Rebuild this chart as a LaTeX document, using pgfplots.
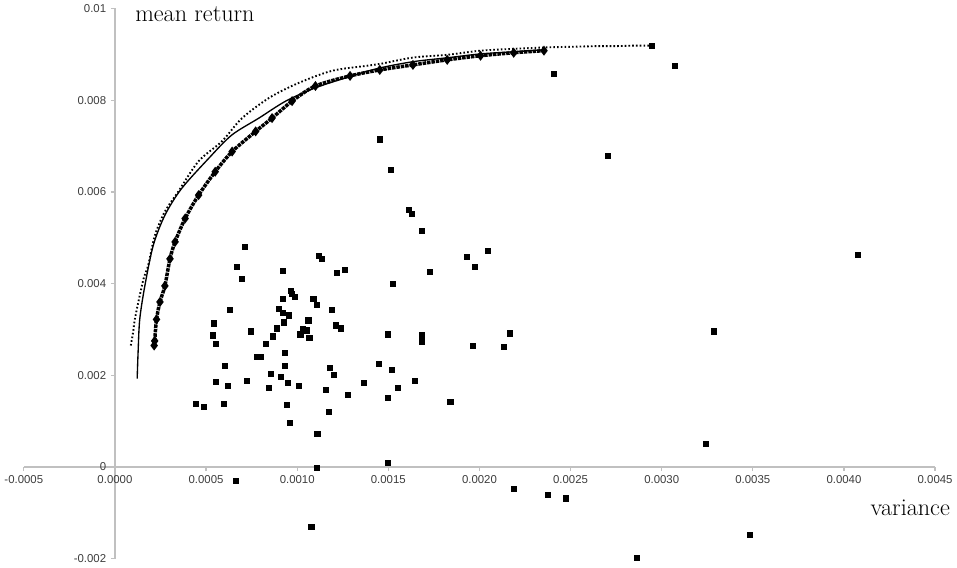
\documentclass[border=0pt]{standalone}
\usepackage{fontspec}
\usepackage{pgfplots}
\pgfplotsset{compat=1.18}
\newfontfamily\arial{Liberation Sans}
\definecolor{axisgray}{RGB}{192,192,192}
\definecolor{ticktext}{RGB}{60,60,60}
\begin{document}
\begin{tikzpicture}
\begin{axis}[
  width=679pt, height=410pt, scale only axis,
  xmin=-0.0005, xmax=0.0045, ymin=-0.002, ymax=0.01,
  axis lines=middle,
  axis line style={axisgray, line width=0.9pt, -},
  hide obscured x ticks=false, hide obscured y ticks=false,
  scaled x ticks=false, scaled y ticks=false,
  xtick={-0.0005,0,0.0005,0.001,0.0015,0.002,0.0025,0.003,0.0035,0.004,0.0045},
  xticklabels={-0.0005,0.0000,0.0005,0.0010,0.0015,0.0020,0.0025,0.0030,0.0035,0.0040,0.0045},
  ytick={-0.002,0,0.002,0.004,0.006,0.008,0.01},
  yticklabels={-0.002,0,0.002,0.004,0.006,0.008,0.01},
  tick style={axisgray, line width=0.9pt},
  tick align=outside, major tick length=3pt,
  tick label style={font=\arial\fontsize{8.5}{10}\selectfont, text=ticktext},
  xlabel={variance}, ylabel={mean return},
  xlabel style={at={(axis description cs:0.929,0.0786)}, anchor=base west, font=\fontsize{18}{20}\selectfont, inner sep=0pt},
  ylabel style={at={(axis description cs:0.122,0.976)}, anchor=base west, font=\fontsize{18}{20}\selectfont, inner sep=0pt, rotate=0},
  clip=false,
]
% individual assets
\addplot[only marks, mark=square*, mark size=1.9pt, black] coordinates {
(0.002409,0.008575)(0.003072,0.00875)(0.002945,0.009189)(0.002702,0.006798)
(0.002044,0.004715)(0.004077,0.004627)(0.002166,0.002917)(0.003287,0.002961)
(0.001453,0.007149)(0.001514,0.006491)(0.001613,0.005614)(0.00163,0.005526)
(0.001685,0.005154)(0.001928,0.004583)(0.001972,0.004364)(0.001729,0.004254)
(0.001525,0.003991)(0.001116,0.004605)(0.001133,0.004539)(0.000923,0.004276)
(0.001215,0.004232)(0.00126,0.004298)(0.000713,0.004803)(0.000669,0.004364)
(0.000696,0.004101)(0.000967,0.003838)(0.000972,0.003772)(0.000989,0.003706)
(0.000923,0.003662)(0.001088,0.003662)(0.001105,0.003531)(0.001188,0.003421)
(0.00063,0.003421)(0.000901,0.003443)(0.000923,0.003355)(0.000956,0.003311)
(0.001061,0.003202)(0.000928,0.003158)(0.00121,0.003092)(0.001238,0.003026)
(0.000541,0.003136)(0.000536,0.002873)(0.000552,0.002697)(0.000746,0.002961)
(0.00089,0.003026)(0.001033,0.003004)(0.00105,0.002982)(0.001017,0.002895)
(0.001066,0.002829)(0.000867,0.002851)(0.000829,0.002697)(0.000779,0.002412)
(0.000801,0.002412)(0.000934,0.0025)(0.000602,0.002215)(0.000934,0.002215)
(0.000856,0.002039)(0.000912,0.001974)(0.000552,0.001864)(0.000619,0.001776)
(0.000724,0.001886)(0.000845,0.001732)(0.00095,0.001842)(0.001011,0.001776)
(0.001177,0.002171)(0.001199,0.002018)(0.001155,0.001689)(0.000442,0.001382)
(0.000486,0.001316)(0.000597,0.001382)(0.000945,0.00136)(0.001171,0.001206)
(0.000961,0.000965)(0.00111,0.000724)(0.001105,-0.000022)(0.000663,-0.000307)
(0.001077,-0.001294)(0.001497,0.002895)(0.001685,0.002873)(0.001685,0.002741)
(0.001961,0.002654)(0.002133,0.002632)(0.001448,0.002259)(0.001519,0.002127)
(0.001365,0.001842)(0.001646,0.001886)(0.001552,0.001732)(0.001276,0.001579)
(0.001497,0.001513)(0.00184,0.001425)(0.001497,0.000088)(0.002188,-0.000482)
(0.002376,-0.000614)(0.002475,-0.00068)(0.003243,0.000504)(0.003481,-0.001469)
(0.002862,-0.001974)
};
% lower frontier (diamonds)
\addplot[black, line width=2.6pt, dash pattern=on 2.6pt off 0.7pt, smooth, mark=diamond*, mark size=1.6pt, mark options={solid}] coordinates {
(0.000215,0.00265)(0.000218,0.00275)(0.000228,0.00322)(0.000247,0.0036)
(0.000274,0.00395)(0.000302,0.00454)(0.00033,0.00491)(0.000385,0.00542)
(0.000459,0.00593)(0.00055,0.00644)(0.000643,0.00688)(0.000772,0.00732)
(0.000862,0.00761)(0.000972,0.00798)(0.0011,0.00831)(0.00129,0.00853)
(0.001453,0.00866)(0.001635,0.00877)(0.001823,0.00888)(0.002006,0.00897)
(0.002188,0.009035)(0.002354,0.00908)
};
% solid frontier
\addplot[black, line width=1.0pt, smooth] coordinates {
(0.000122,0.00193)(0.000127,0.0025)(0.000136,0.00322)(0.000164,0.00395)
(0.00021,0.00483)(0.000274,0.00549)(0.000365,0.00607)(0.000514,0.00673)
(0.000641,0.00724)(0.00079,0.00761)(0.000937,0.00798)(0.0011,0.00827)
(0.0013,0.00853)(0.00145,0.0087)(0.001635,0.00884)(0.001823,0.008925)
(0.002006,0.00901)(0.002188,0.009057)(0.002354,0.0091)
};
% upper dotted frontier
\addplot[black, line width=1.4pt, dash pattern=on 1.2pt off 1.6pt, smooth] coordinates {
(0.000087,0.00265)(0.0001,0.00295)(0.000109,0.00322)(0.000136,0.00374)
(0.00016,0.00415)(0.000182,0.00439)(0.000219,0.00505)(0.000274,0.00557)
(0.000348,0.00601)(0.000459,0.00667)(0.000586,0.0071)(0.00068,0.00754)
(0.000753,0.00779)(0.000862,0.00809)(0.00101,0.00838)(0.00119,0.00864)
(0.00138,0.00875)(0.001453,0.00879)(0.001635,0.00893)(0.001823,0.00899)
(0.002006,0.00908)(0.002188,0.00912)(0.002354,0.00915)(0.00245,0.00916)
(0.00255,0.00917)(0.00265,0.00918)(0.00275,0.00918)(0.00285,0.00919)
(0.002945,0.00919)
};
\end{axis}
\end{tikzpicture}
\end{document}
